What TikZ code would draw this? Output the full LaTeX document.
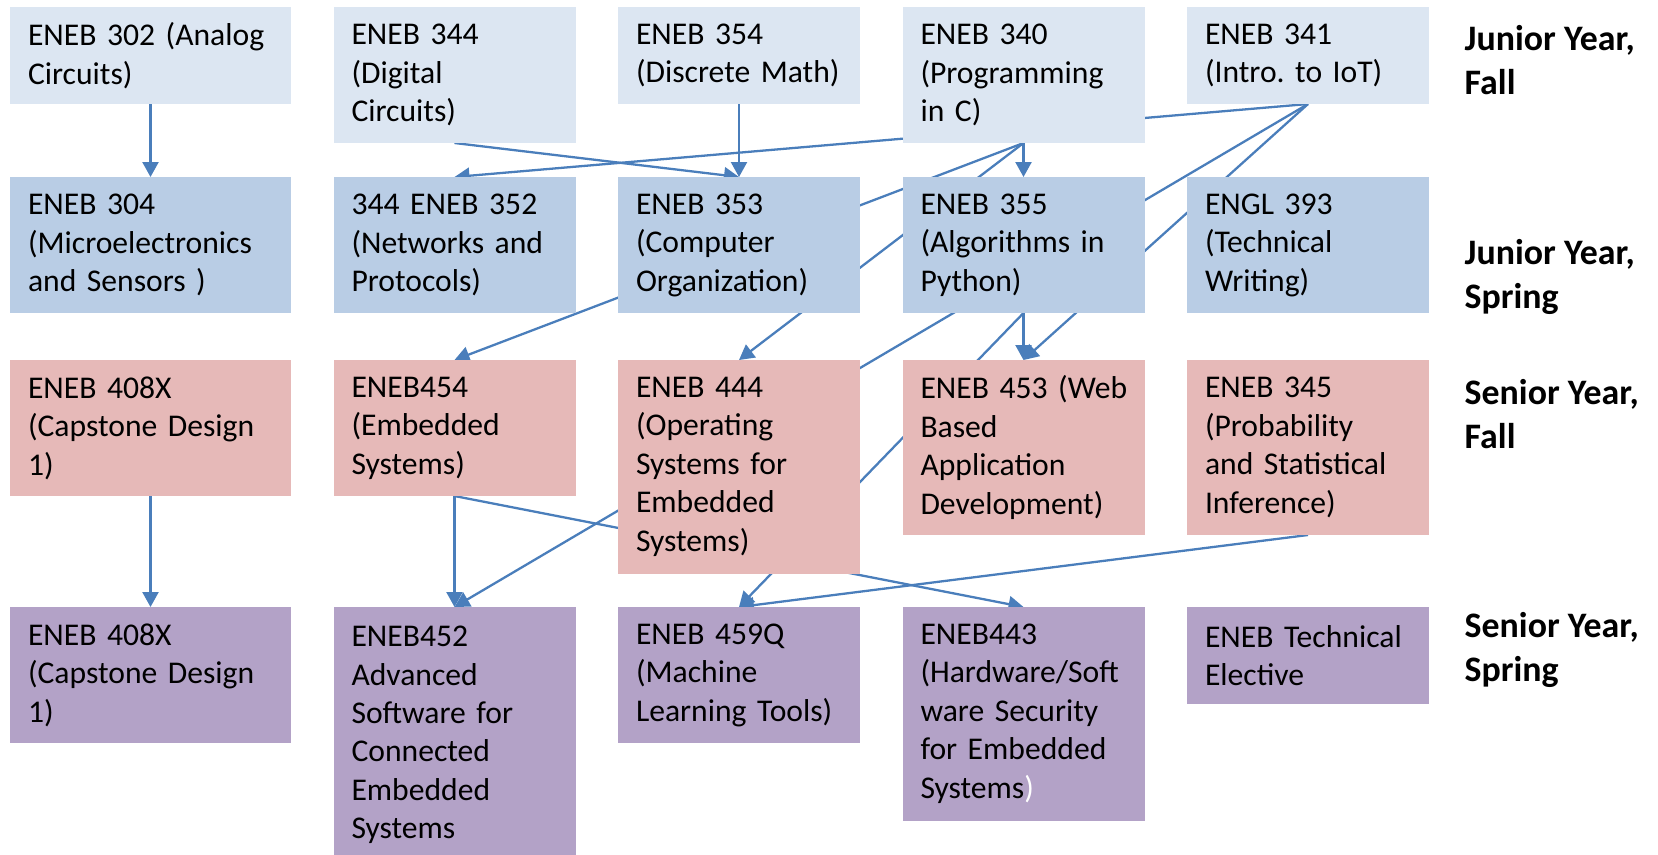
\documentclass[tikz,border=0pt]{standalone}
\usepackage{fontspec}
\setmainfont{Carlito}
\frenchspacing
\usetikzlibrary{positioning,arrows.meta,backgrounds}

\begin{document}
\begin{tikzpicture}[
		kurs/.style={rectangle, outer sep=0pt, inner xsep=1.8mm, inner ysep=0.5mm, align=left, text width=20.6mm, minimum width=24.2mm, font=\fontsize{9pt}{10.95pt}\selectfont},
		breit/.style={text width=24.5mm, minimum width=28.1mm},
		j1/.style={kurs, fill=hellblau},
		j2/.style={kurs, fill=mittelblau},
		s1/.style={kurs, fill=rosa},
		s2/.style={kurs, fill=lila},
		zwei/.style={minimum height=9.7mm},
		drei/.style={minimum height=13.6mm},
		vier/.style={minimum height=17.5mm},
		fuenf/.style={minimum height=21.35mm},
		sechs/.style={minimum height=25.6mm},
		jahr/.style={anchor=north west, inner sep=0pt, align=left, font=\fontsize{10.2pt}{12.3pt}\selectfont\bfseries},
		pfeil/.style={draw=pfeilblau, line width=0.65pt, -{Triangle[length=1.5mm, width=1.6mm]}}
	]

		% Farben definieren
		\definecolor{hellblau}{RGB}{220,230,242}
		\definecolor{mittelblau}{RGB}{185,205,229}
		\definecolor{rosa}{RGB}{230,185,184}
		\definecolor{lila}{RGB}{179,162,199}
		\definecolor{pfeilblau}{RGB}{74,126,187}

		\useasboundingbox (0,0) rectangle (165.8mm,-85.4mm);

		% --- Junior Year, Fall ---
		\node[j1, breit, zwei, anchor=north west] (k302) at (1mm,-0.7mm) {ENEB 302 (Analog\\Circuits)};
		\node[j1, drei, right=4.25mm of k302.north east, anchor=north west] (k344) {ENEB 344\\(Digital\\Circuits)};
		\node[j1, zwei, right=4.25mm of k344.north east, anchor=north west] (k354) {ENEB 354\\(Discrete Math)};
		\node[j1, drei, right=4.25mm of k354.north east, anchor=north west] (k340) {ENEB 340\\(Programming\\in C)};
		\node[j1, zwei, right=4.25mm of k340.north east, anchor=north west] (k341) {ENEB 341\\(Intro. to IoT)};

		% --- Junior Year, Spring ---
		\node[j2, breit, drei, below=7.3mm of k302.south west, anchor=north west] (k304) {ENEB 304\\(Microelectronics\\and Sensors )};
		\node[j2, drei, right=4.25mm of k304.north east, anchor=north west] (k352) {344 ENEB 352\\(Networks and\\Protocols)};
		\node[j2, drei, right=4.25mm of k352.north east, anchor=north west] (k353) {ENEB 353\\(Computer\\Organization)};
		\node[j2, drei, right=4.25mm of k353.north east, anchor=north west] (k355) {ENEB 355\\(Algorithms in\\Python)};
		\node[j2, drei, right=4.25mm of k355.north east, anchor=north west] (k393) {ENGL 393\\(Technical\\Writing)};

		% --- Senior Year, Fall ---
		\node[s1, breit, drei, below=4.7mm of k304.south west, anchor=north west] (k408h) {ENEB 408X\\(Capstone Design\\1)};
		\node[s1, drei, right=4.25mm of k408h.north east, anchor=north west] (k454) {ENEB454\\(Embedded\\Systems)};
		\node[s1, fuenf, right=4.25mm of k454.north east, anchor=north west] (k444) {ENEB 444\\(Operating\\Systems for\\Embedded\\Systems)};
		\node[s1, vier, right=4.25mm of k444.north east, anchor=north west] (k453) {ENEB~453~(Web\\Based\\Application\\Development)};
		\node[s1, vier, right=4.25mm of k453.north east, anchor=north west] (k345) {ENEB 345\\(Probability\\and Statistical\\Inference)};

		% --- Senior Year, Spring ---
		\node[s2, breit, drei, below=11.1mm of k408h.south west, anchor=north west] (k408f) {ENEB 408X\\(Capstone Design\\1)};
		\node[s2, sechs, right=4.25mm of k408f.north east, anchor=north west] (k452) {ENEB452\\Advanced\\Software for\\Connected\\Embedded\\Systems};
		\node[s2, drei, right=4.25mm of k452.north east, anchor=north west] (k459) {ENEB 459Q\\(Machine\\Learning Tools)};
		\node[s2, fuenf, right=4.25mm of k459.north east, anchor=north west] (k443) {ENEB443\\(Hardware/Soft\\ware Security\\for Embedded\\Systems\textcolor{white}{)}};
		\node[s2, zwei, right=4.25mm of k443.north east, anchor=north west] (ktech) {ENEB Technical\\Elective};

		% Beschriftung
		\node[jahr] (jh) at (146.4mm,-2.5mm) {Junior Year,\\Fall};
		\node[jahr] (jf) at (146.4mm,-23.9mm) {Junior Year,\\Spring};
		\node[jahr] (sh) at (146.4mm,-37.9mm) {Senior Year,\\Fall};
		\node[jahr] (sf) at (146.4mm,-61.2mm) {Senior Year,\\Spring};

		% --- Voraussetzungen (hinter den Kaesten) ---
		\begin{scope}[on background layer]
			\draw[pfeil] (k302.south) -- (k304.north);
			\draw[pfeil] (k344.south) -- (k353.north);
			\draw[pfeil] (k354.south) -- (k353.north);
			\draw[pfeil] (k341.south) -- (k352.north);
			\draw[pfeil] (k340.south) -- (k355.north);
			\draw[pfeil] (k340.south) -- (k454.north);
			\draw[pfeil] (k340.south) -- (k444.north);
			\draw[pfeil] (k341.south) -- (k452.north);
			\draw[pfeil] (k341.south) -- (k453.north);
			\draw[pfeil] (k355.south) -- (k453.north);
			\draw[pfeil] (k355.south) -- (k459.north);
			\draw[pfeil] (k345.south) -- (k459.north);
			\draw[pfeil] (k454.south) -- (k452.north);
			\draw[pfeil] (k454.south) -- (k443.north);
			\draw[pfeil] (k408h.south) -- (k408f.north);
		\end{scope}

	\end{tikzpicture}
\end{document}
